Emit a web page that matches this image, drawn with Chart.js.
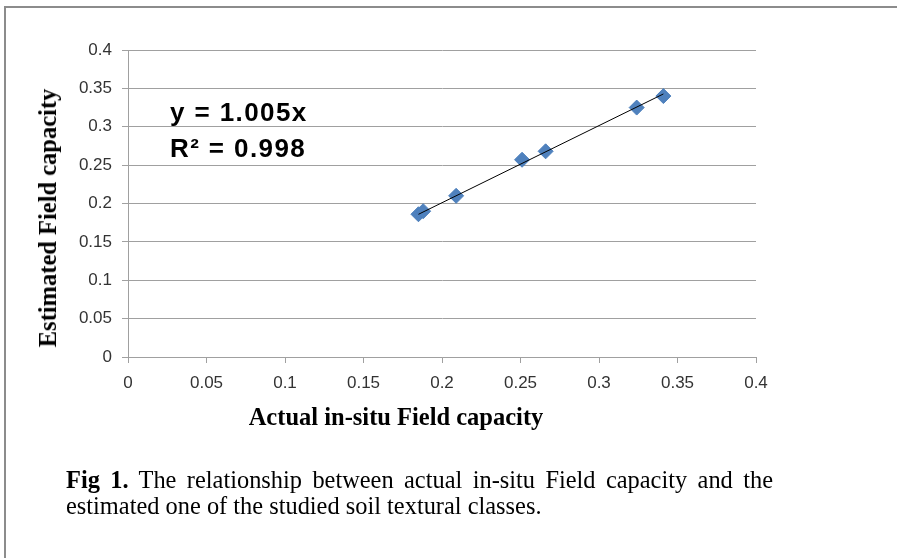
<!DOCTYPE html>
<html lang="en">
<head>
  <meta charset="UTF-8">
  <title>Actual vs Estimated Field Capacity</title>
  <script src="https://cdn.jsdelivr.net/npm/chart.js"></script>
  <style>
    body { margin: 0; background: #fff; width: 897px; height: 558px; overflow: hidden; position: relative; }
    #frame { position: absolute; left: 4px; top: 6px; width: 1000px; height: 1000px; border: 2px solid #8c8c8c; box-sizing: border-box; }
    #fcChart { position: absolute; left: 0; top: 0; }
    .eq { position: absolute; left: 170px; font: bold 26px "Liberation Sans", Arial, sans-serif; letter-spacing: 1.4px; color: #000; white-space: nowrap; }
    .axisTitle { position: absolute; font: bold 24.5px "Liberation Serif", "Times New Roman", serif; color: #000; white-space: nowrap; }
    #yTitle { left: 48px; top: 218px; transform: translate(-50%, -50%) rotate(-90deg); }
    #xTitle { left: 396px; top: 417px; transform: translate(-50%, -50%); }
    #caption { position: absolute; left: 66px; top: 467px; width: 707px; font: 24.4px "Liberation Serif", "Times New Roman", serif; line-height: 26px; text-align: justify; text-align-last: left; color: #000; }
  </style>
</head>
<body>
  <div id="frame"></div>
  <canvas id="fcChart" width="897" height="558"></canvas>
  <div class="eq" style="top:97px">y = 1.005x</div>
  <div class="eq" style="top:133px">R² = 0.998</div>
  <div class="axisTitle" id="yTitle">Estimated Field capacity</div>
  <div class="axisTitle" id="xTitle">Actual in-situ Field capacity</div>
  <div id="caption"><b>Fig 1.</b> The relationship between actual in-situ Field capacity and the estimated one of the studied soil textural classes.</div>

  <script>
    // values
    const actualFC    = [0.185, 0.188, 0.209, 0.251, 0.266, 0.324, 0.341];
    const estimatedFC = [0.186, 0.190, 0.210, 0.257, 0.268, 0.325, 0.340];

    // linear trend through origin, y = 1.005x, drawn across the data range
    const trendSlope = 1.005;
    const trendX = [0.185, 0.341];

    const xTickLabels = ['0', '0.05', '0.1', '0.15', '0.2', '0.25', '0.3', '0.35', '0.4'];
    const yTickLabels = ['0', '0.05', '0.1', '0.15', '0.2', '0.25', '0.3', '0.35', '0.4'];

    const points = actualFC.map((x, i) => ({ x: x, y: estimatedFC[i] }));
    const trend = trendX.map(x => ({ x: x, y: trendSlope * x }));

    const tickFont = { family: '"Liberation Sans", Arial, sans-serif', size: 17 };

    new Chart(document.getElementById('fcChart'), {
      type: 'scatter',
      data: {
        datasets: [
          {
            label: 'Linear (trend)',
            data: trend,
            showLine: true,
            borderColor: '#000',
            borderWidth: 1,
            pointRadius: 0,
            order: 0
          },
          {
            label: 'Field capacity',
            data: points,
            pointStyle: 'rectRot',
            pointRadius: 7.5,
            pointHoverRadius: 7.5,
            backgroundColor: '#4f81bd',
            borderColor: '#4a7ebb',
            borderWidth: 1,
            order: 1
          }
        ]
      },
      options: {
        responsive: false,
        animation: false,
        devicePixelRatio: 1,
        layout: { padding: { left: 0, top: 50, right: 141, bottom: 161 } },
        plugins: { legend: { display: false }, tooltip: { enabled: false } },
        scales: {
          x: {
            type: 'linear',
            min: 0,
            max: 0.4,
            afterFit: s => { s.height = 40; },
            ticks: {
              stepSize: 0.05,
              padding: 10,
              color: '#333',
              font: tickFont,
              maxRotation: 0,
              callback: (v, i) => xTickLabels[i]
            },
            grid: { drawOnChartArea: false, drawTicks: true, tickLength: 6, color: '#a0a0a0' },
            border: { color: '#a0a0a0' }
          },
          y: {
            type: 'linear',
            min: 0,
            max: 0.4,
            afterFit: s => { s.width = 128; },
            ticks: {
              stepSize: 0.05,
              padding: 10,
              color: '#333',
              font: tickFont,
              callback: (v, i) => yTickLabels[i]
            },
            grid: { color: '#a0a0a0', tickLength: 6 },
            border: { color: '#a0a0a0' }
          }
        }
      }
    });
  </script>
</body>
</html>
